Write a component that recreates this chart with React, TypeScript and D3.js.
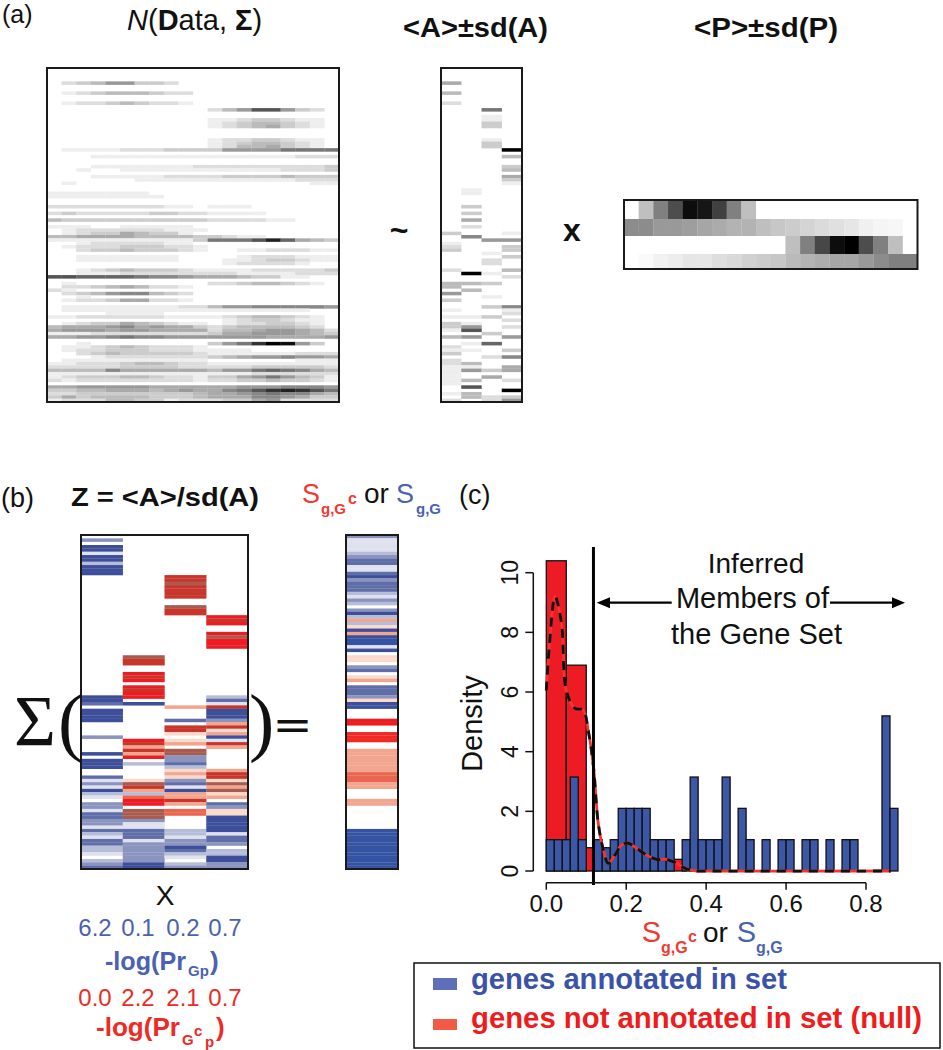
import React from "react";
import * as d3 from "d3";

const dataRows = ["00000000000000000000","00000000000000000000","00000000000000000000","00000000000000000000","02346633200000000000","00000000000000000000","00000000000000000000","01234443220000000000","00000000000000000000","00000000000000000000","01223432210000000000","00000000000000000000","00000000000246aa6320","00000000000000000000","00000000000000000000","00000000000112332110","00000000000123443210","00000000000123453210","00000000000000000000","00000000000000000000","00000000000000000000","00000000000122332110","00000000000123443210","00000000000124453210","01111222333366668888","00000000000000000000","00011111111111111222","00000000000000000000","00000000000000000000","00011111112222222223","00100111111111112223","00000000000000000000","00011111222233334333","00000011111111111222","01000000000000000011","00000000000000000000","00000000000000000000","11111110000000000000","11111111000000000000","00000000000000000000","00000000000000000000","22222222110111000000","00000000000000000000","23222223322111100000","00000000000000000000","43333333333222211000","00000000000000000000","11100111110000000000","01222222111000000000","01233543310000000000","44555544443321100000","11111111113888ad9543","00122222110000000000","01222333221000000000","00233433321001122211","00000000000000000000","00111111100001222111","00111111100011233211","00000000000012222100","00000000000000000000","00123433321111222223","00111222222221111222","aa999987765554331100","00000000000000000000","01000000000223443210","02234542210000000000","21000000000000000000","02346774320000000000","00100000000000000000","01223552210000000000","00000000000000000000","01111111122466777776","01111111111111111100","00001111000000000000","11222222111123443210","00000000000012332110","01233543211012233210","45556756553234444320","56665665555244566542","11122222222355666543","55667877666666655556","00000000000000000000","00100000000368cfe630","01123432221000000000","01223332221111000000","00234333332111111222","00012222222345667665","01111111111000000111","11222344322111111111","22222333322222333332","44447555555466898754","11111111111111222222","12333443221335686431","21222222221223343321","00000000000000000000","55666665555556667776","33445554565578acdca8","22333333334556787754","35344443334555776533","12224433122233562222"];

const aRows = ["0000","0000","0000","0000","5000","0000","0000","4000","0000","0000","2000","0000","0080","0000","0010","0010","0030","0030","0000","0000","0000","0010","0030","0030","000f","0000","0004","0000","0000","0003","0004","0000","0005","0003","0001","0000","0100","0100","0000","0000","0000","0300","0000","0300","0000","0500","0000","0200","0000","3001","0700","0066","1000","2003","3003","0010","0003","0020","0020","0000","2004","0f10","0002","0000","4430","4000","0400","6000","0010","3000","0000","0037","1001","0002","1130","0002","3100","3602","1a00","0030","4606","0000","0190","2000","1103","3000","0027","2000","2400","1105","1635","1000","1050","1402","1000","0a00","000f","1400","0423","2026"];

const pRows = [
  [0, 0.25, 0.5, 0.7, 0.95, 0.93, 0.75, 0.5, 0.25, 0, 0, 0, 0, 0, 0, 0, 0, 0, 0, 0],
  [0.45, 0.45, 0.4, 0.4, 0.38, 0.35, 0.33, 0.3, 0.3, 0.25, 0.22, 0.2, 0.17, 0.14, 0.12, 0.1, 0.06, 0.04, 0.03, 0],
  [0, 0, 0, 0, 0, 0, 0, 0, 0, 0, 0, 0.25, 0.5, 0.72, 0.95, 0.98, 0.7, 0.5, 0.25, 0],
  [0, 0.02, 0.05, 0.07, 0.1, 0.1, 0.13, 0.15, 0.18, 0.2, 0.22, 0.27, 0.3, 0.32, 0.35, 0.35, 0.4, 0.45, 0.5, 0.5],
];
const pRowWeights = [19, 17, 18, 15];

const zRows = ["....","3...","....","5...","5...","1...","5...","5...","2...","5...","5...","5...","..e.","..e.","..f.","..e.","..e.","..e.","..e.","....","....","..f.","..e.","..e.","...d","...e","...d","....","....","...d","...f","...d","...d","...d","....","....",".f..",".e..",".e..","....","....",".d..",".e..",".d..","....",".d..",".e..",".d..","5d.2","5..4","45.1","..be","5..5","5..5","5..5","5.43","...b","..ee","..ea","..ab","3..5",".da1",".ebe",".b.b",".ef.","5bf.",".d3.","5.3.","524.","5.2.","..ab","..be","4.ae","1a3a","3f4f","1e1b","5b5f","22ba","1cbb",".de.","3db4","3..3","1fca","4fca","4f.5","33.5","31.5","11.5","4425","2421","1414","4134","4333","235.","2342","1322",".315","23.5","3523","4533"];

const sRows = ["3","1","1","1","1","2","3","4","4","1","1","4","5","3","4","4","4","2","1","3","2",".","3","5","2","b","2","a","5","b","5","6","6","1","5",".","a","a",".","3","4",".","a","b",".","4","4","4","3","a","5","5",".",".",".","d","d",".",".","g","g","g",".",".","b","b","b","b","b","b","b","c","c","c","b","b",".",".",".","b","b",".",".",".",".",".",".",".","6","6","6","6","6","6","6","6","6","6","6","6"];

const blueDensity = [1.05,1.05,1.05,3.15,1.05,0,1.05,0.78,1.05,2.1,2.1,2.1,2.1,1.05,1.05,1.05,0,1.05,3.15,1.05,1.05,1.05,3.15,0,2.1,1.05,0,1.05,0,1.05,1.05,0,1.05,1.05,0,1.05,0,1.05,1.05,0,0,0,5.2,2.1];
const redDensity = [10.4,6.9,0.78,0.2,0.4,0.4,0.39,0];
const curveX = [0,0.008,0.022,0.038,0.05,0.072,0.092,0.105,0.118,0.13,0.143,0.155,0.172,0.188,0.205,0.226,0.25,0.276,0.3,0.326,0.343,0.368,0.426,0.862];
const curveY = [6.05,7.6,9.2,8.3,6.05,5.45,5.4,4.7,3.5,1.6,0.7,0.26,0.54,0.87,0.93,0.76,0.54,0.39,0.39,0.26,0.12,0.01,0,0];
const xTicks = [0,0.2,0.4,0.6,0.8];
const yTicks = [0,2,4,6,8,10];
const threshold = 0.118;
const blueLabels = ["6.2","0.1","0.2","0.7"];
const redLabels = ["0.0","2.2","2.1","0.7"];
const labelCentres = [95,138,183,225];

const zPalette: Record<string,string> = {
  ".":"#ffffff","1":"#dfe2ee","2":"#b6bdd8","3":"#8a94bf","4":"#5f6ea8","5":"#3c4f9a","6":"#3553a3",
  a:"#fbd9cb",b:"#f2a58f",c:"#ea6650",d:"#ed1c24",e:"#c8352b",f:"#a85c50",g:"#f02a24",
};
const RED = "#f03a30", BLUE = "#4a62b0";
const FONT = "'Liberation Sans', Arial, sans-serif";
const SERIF = "'Liberation Serif', serif";
const grey = d3.scaleLinear<string>().domain([0,15]).range(["#ffffff","#000000"]);

function Grid({ x, y, w, h, rows, colour }: any) {
  const nCols = rows[0].length;
  const sx = d3.scaleBand<number>().domain(d3.range(nCols)).range([x, x + w]);
  const sy = d3.scaleBand<number>().domain(d3.range(rows.length)).range([y, y + h]);
  return (
    <g>
      <g filter="url(#soft)">
        {rows.map((row: string, i: number) =>
          Array.from(row).map((c, j) => {
            const fill = colour(c);
            if (fill === "#ffffff" || fill === "rgb(255, 255, 255)") return null;
            return <rect key={i + "-" + j} x={sx(j)} y={sy(i)} width={sx.bandwidth() + 0.2} height={sy.bandwidth() + 0.2} fill={fill} />;
          })
        )}
      </g>
      <rect x={x} y={y} width={w} height={h} fill="none" stroke="#1a1a1a" strokeWidth={2} />
    </g>
  );
}

function PMatrix({ x, y, w, h }: any) {
  const sx = d3.scaleBand<number>().domain(d3.range(20)).range([x, x + w]);
  const total = d3.sum(pRowWeights);
  const tops = d3.cumsum([0, ...pRowWeights]);
  const sy = d3.scaleLinear().domain([0, total]).range([y, y + h]);
  return (
    <g>
      <g filter="url(#softP)">
        {pRows.map((row, i) =>
          row.map((v, j) => (
            <rect key={i + "-" + j} x={sx(j)} y={sy(tops[i])} width={sx.bandwidth() + 0.2} height={sy(tops[i + 1]) - sy(tops[i]) + 0.2} fill={grey(v * 15)} />
          ))
        )}
      </g>
      <rect x={x} y={y} width={w} height={h} fill="none" stroke="#1a1a1a" strokeWidth={2} />
    </g>
  );
}

function T({ x, y, size = 24, weight, fill = "#111", anchor, style, len, children, transform, family }: any) {
  return (
    <text x={x} y={y} fontSize={size} fontWeight={weight} fill={fill} textAnchor={anchor} fontStyle={style} fontFamily={family}
      textLength={len} lengthAdjust={len ? "spacingAndGlyphs" : undefined} transform={transform}>
      {children}
    </text>
  );
}

function Hist() {
  const x = d3.scaleLinear().domain([0, 0.8]).range([546.3, 866]);
  const y = d3.scaleLinear().domain([0, 10]).range([871, 572.7]);
  const line = d3.line<number>().x((_, i) => x(curveX[i])).y((d) => y(d)).curve(d3.curveCatmullRom.alpha(0.5));
  const path = line(curveY) as string;
  const yAxisX = 533.3, xAxisY = 882.7;
  const arrowY = 602.7;
  const vx = x(threshold);
  return (
    <g>
      {redDensity.map((v, i) => v > 0 && (
        <rect key={i} x={x(i * 0.05)} y={y(v)} width={x(0.05) - x(0)} height={y(0) - y(v)} fill="#ed1c24" stroke="#111" strokeWidth={1.3} />
      ))}
      {blueDensity.map((v, i) => v > 0 && (
        <rect key={i} x={x(i * 0.02)} y={y(v)} width={x(0.02) - x(0)} height={y(0) - y(v)} fill="#3b57a6" stroke="#111" strokeWidth={1.3} />
      ))}
      <path d={path} fill="none" stroke="#f0362e" strokeWidth={2.8} />
      <path d={path} fill="none" stroke="#111" strokeWidth={2.8} strokeDasharray="9 7" />
      <line x1={vx} x2={vx} y1={547} y2={885} stroke="#000" strokeWidth={3} />

      <line x1={yAxisX} x2={yAxisX} y1={y(0)} y2={y(10)} stroke="#111" strokeWidth={1.5} />
      {yTicks.map((t) => (
        <g key={t}>
          <line x1={yAxisX - 8} x2={yAxisX} y1={y(t)} y2={y(t)} stroke="#111" strokeWidth={1.5} />
          <T x={518} y={y(t)} size={23} anchor="middle" transform={`rotate(-90 518 ${y(t)})`}>{t}</T>
        </g>
      ))}
      <line x1={x(0)} x2={x(0.8)} y1={xAxisY} y2={xAxisY} stroke="#111" strokeWidth={1.5} />
      {xTicks.map((t) => (
        <g key={t}>
          <line x1={x(t)} x2={x(t)} y1={xAxisY} y2={xAxisY + 7} stroke="#111" strokeWidth={1.5} />
          <T x={x(t)} y={911.7} size={24} anchor="middle">{t.toFixed(1)}</T>
        </g>
      ))}
      <T x={482} y={723.5} size={29} anchor="middle" transform="rotate(-90 482 723.5)">Density</T>

      <T x={756} y={572.7} size={28} anchor="middle">Inferred</T>
      <T x={752.5} y={608} size={29} anchor="middle">Members of</T>
      <T x={756.5} y={644} size={29} anchor="middle">the Gene Set</T>

      <line x1={604} x2={671.7} y1={arrowY} y2={arrowY} stroke="#000" strokeWidth={2.2} />
      <path d={`M596.7,${arrowY}L610,${arrowY - 5.5}L610,${arrowY + 5.5}Z`} fill="#000" />
      <line x1={830} x2={898} y1={arrowY} y2={arrowY} stroke="#000" strokeWidth={2.2} />
      <path d={`M905,${arrowY}L892,${arrowY - 5.5}L892,${arrowY + 5.5}Z`} fill="#000" />

      <T x={641.7} y={941.7} size={29} fill={RED}>S</T>
      <T x={661} y={952.7} size={16} weight="bold" fill={RED}>g,G</T>
      <T x={688} y={942} size={16} weight="bold" fill={RED}>c</T>
      <T x={703} y={941.7} size={28}>or</T>
      <T x={736.7} y={941.7} size={29} fill={BLUE}>S</T>
      <T x={756} y={952.7} size={16} weight="bold" fill={BLUE}>g,G</T>
    </g>
  );
}

export default function App() {
  return (
    <svg width={943} height={1050} viewBox="0 0 943 1050"
      style={{ position: "absolute", left: 0, top: 0, display: "block", background: "#fff" }} fontFamily={FONT}>
      <defs>
        <filter id="soft" x="-2%" y="-2%" width="104%" height="104%">
          <feGaussianBlur stdDeviation="0.4 0.7" />
        </filter>
        <filter id="softP" x="-2%" y="-2%" width="104%" height="104%">
          <feGaussianBlur stdDeviation="0.45" />
        </filter>
      </defs>

      <T x={2} y={23} size={25}>(a)</T>
      <text x={127} y={30} fontSize={29} fill="#111">
        <tspan fontStyle="italic">N</tspan>(<tspan fontWeight="bold">D</tspan>ata, <tspan fontWeight="bold">Σ</tspan>)
      </text>
      <T x={403} y={37} size={27} weight="bold" len={145}>{"<A>±sd(A)"}</T>
      <T x={694} y={37} size={27} weight="bold" len={144}>{"<P>±sd(P)"}</T>
      <Grid x={47} y={68} w={292} h={334} rows={dataRows} colour={(c: string) => grey(parseInt(c, 16))} />
      <Grid x={441} y={68} w={81} h={334} rows={aRows} colour={(c: string) => grey(parseInt(c, 16))} />
      <PMatrix x={624} y={200} w={293.5} h={69} />
      <T x={399} y={241} size={32} weight="bold" anchor="middle">~</T>
      <T x={572} y={241} size={32} weight="bold" anchor="middle">x</T>

      <T x={1} y={507} size={27}>(b)</T>
      <T x={71} y={506} size={26} weight="bold" len={188}>{"Z = <A>/sd(A)"}</T>
      <T x={302} y={503} size={27} fill={RED}>S</T>
      <T x={321} y={514} size={15} weight="bold" fill={RED}>g,G</T>
      <T x={348} y={504} size={16} weight="bold" fill={RED}>c</T>
      <T x={364} y={503} size={28}>or</T>
      <T x={396} y={503} size={27} fill={BLUE}>S</T>
      <T x={416} y={514} size={15} weight="bold" fill={BLUE}>g,G</T>
      <T x={459} y={504} size={27}>(c)</T>

      <Grid x={81} y={535} w={167} h={334} rows={zRows} colour={(c: string) => zPalette[c]} />
      <Grid x={346} y={535} w={52} h={334} rows={sRows} colour={(c: string) => zPalette[c]} />

      <T x={14} y={745} size={72} family={SERIF}>Σ</T>
      <T x={58} y={747} size={76} family={SERIF}>(</T>
      <T x={249} y={747} size={76} family={SERIF}>)</T>
      <T x={275} y={737} size={32} weight="bold" len={35}>=</T>

      <T x={165} y={905} size={28} anchor="middle">X</T>
      {blueLabels.map((l, i) => <T key={i} x={labelCentres[i]} y={936} size={24} fill={BLUE} anchor="middle">{l}</T>)}
      <T x={105} y={970} size={26} weight="bold" fill={BLUE} len={81}>-log(Pr</T>
      <T x={188} y={976} size={15} weight="bold" fill={BLUE}>Gp</T>
      <T x={210} y={970} size={26} weight="bold" fill={BLUE}>)</T>
      {redLabels.map((l, i) => <T key={i} x={labelCentres[i]} y={1006} size={24} fill="#ee2a24" anchor="middle">{l}</T>)}
      <T x={96} y={1036} size={26} weight="bold" fill="#ee2a24" len={84}>-log(Pr</T>
      <T x={182} y={1045} size={15} weight="bold" fill="#ee2a24">G</T>
      <T x={194} y={1036} size={15} weight="bold" fill="#ee2a24">c</T>
      <T x={205} y={1047} size={15} weight="bold" fill="#ee2a24">p</T>
      <T x={216} y={1036} size={26} weight="bold" fill="#ee2a24">)</T>

      <Hist />

      <rect x={414} y={963} width={526} height={85} fill="#fff" stroke="#111" strokeWidth={1.5} />
      <rect x={433} y={978} width={24} height={12} fill="#5f70b8" />
      <T x={471} y={989} size={29} weight="bold" fill="#3a52a8" len={316}>genes annotated in set</T>
      <rect x={433} y={1019} width={24} height={11} fill="#f25a45" />
      <T x={471} y={1028} size={29} weight="bold" fill="#ee1c1c" len={451}>genes not annotated in set (null)</T>
    </svg>
  );
}
